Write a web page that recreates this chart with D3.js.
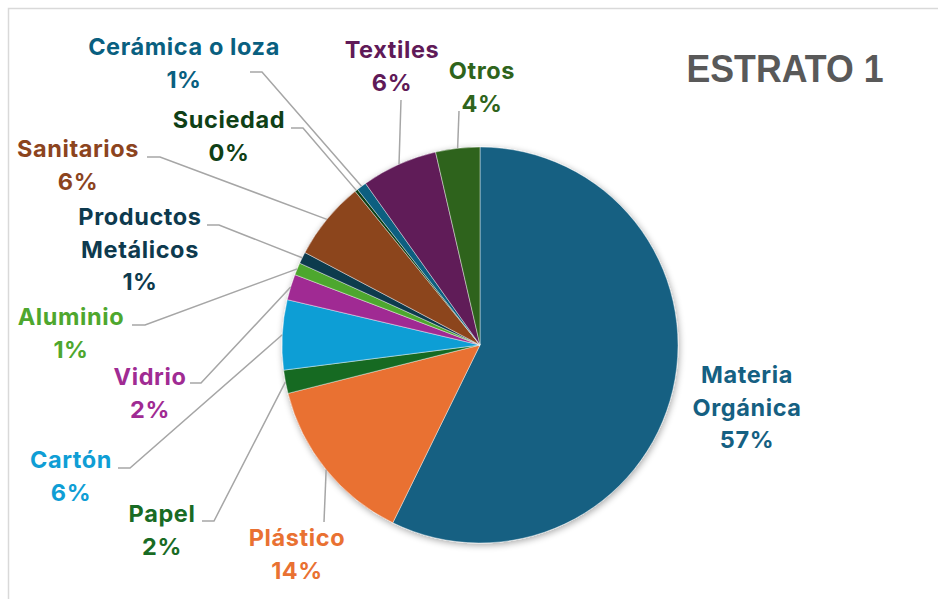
<!DOCTYPE html>
<html>
<head>
<meta charset="utf-8">
<script src="https://cdn.jsdelivr.net/npm/d3@7"></script>
<style>
  html, body { margin: 0; padding: 0; background: #fff; }
  svg { display: block; }
</style>
</head>
<body>
<svg id="chart" width="938" height="599"></svg>
<script>
// ---- Data ----
const categories = ["Materia Orgánica", "Plástico", "Papel", "Cartón", "Vidrio", "Aluminio",
  "Productos Metálicos", "Sanitarios", "Suciedad", "Cerámica o loza", "Textiles", "Otros"];
const values = [57.2, 13.8, 1.9, 5.7, 2.1, 1.0, 0.95, 6.4, 0.25, 0.8, 6.2, 3.6];
const colors = ["#156082", "#E97132", "#196B24", "#0F9ED5", "#A02B93", "#4EA72E",
  "#0D3A4E", "#8C441E", "#0F4016", "#095F80", "#601A58", "#2F641C"];
const labelLines = [["Materia", "Orgánica"], ["Plástico"], ["Papel"], ["Cartón"], ["Vidrio"], ["Aluminio"],
  ["Productos", "Metálicos"], ["Sanitarios"], ["Suciedad"], ["Cerámica o loza"], ["Textiles"], ["Otros"]];
const title = "ESTRATO 1";

// ---- Layout (label anchors and leader-line starts/elbows) ----
const labelPos = [
  {x: 747, y: 383, line: null},
  {x: 297, y: 546, line: [[324, 522], [324, 522]]},
  {x: 162, y: 522, line: [[202, 521], [214, 521]]},
  {x: 71,  y: 468, line: [[118, 468], [130, 468]]},
  {x: 150, y: 385, line: [[190, 383], [201, 383]]},
  {x: 71,  y: 325, line: [[132, 325], [145, 325]]},
  {x: 140, y: 225, line: [[207, 225], [219, 225]]},
  {x: 78,  y: 157, line: [[147, 157], [160, 157]]},
  {x: 229, y: 128, line: [[291, 128], [303, 128]]},
  {x: 184, y: 55,  line: [[250, 72], [262, 72]]},
  {x: 392, y: 58,  line: [[401, 100], [401, 100]]},
  {x: 482, y: 79,  line: [[459, 111], [459, 111]]}
];

const W = 938, H = 599;
const cx = 480, cy = 345, R = 198;
const svg = d3.select("#chart");

// frame
svg.append("rect").attr("x", 8.5).attr("y", 8.5).attr("width", 960).attr("height", 620)
  .attr("fill", "#fff").attr("stroke", "#d9d9d9").attr("stroke-width", 1.5);

// shadow filter
const defs = svg.append("defs");
const f = defs.append("filter").attr("id", "sh").attr("x", "-20%").attr("y", "-20%").attr("width", "140%").attr("height", "140%");
f.append("feGaussianBlur").attr("in", "SourceAlpha").attr("stdDeviation", 3.5).attr("result", "b");
f.append("feOffset").attr("in", "b").attr("dx", 1).attr("dy", 2).attr("result", "o");
f.append("feComponentTransfer").attr("in", "o").attr("result", "o2")
  .append("feFuncA").attr("type", "linear").attr("slope", 0.35);
const m = f.append("feMerge");
m.append("feMergeNode").attr("in", "o2");
m.append("feMergeNode").attr("in", "SourceGraphic");

const data = categories.map((c, i) => ({name: c, value: values[i], i}));
const total = d3.sum(values);
const pie = d3.pie().value(d => d.value).sort(null).startAngle(0).endAngle(2 * Math.PI);
const arcs = pie(data);
const arc = d3.arc().innerRadius(0).outerRadius(R);

const g = svg.append("g").attr("transform", `translate(${cx},${cy})`);
g.append("g").attr("filter", "url(#sh)")
  .selectAll("path").data(arcs).join("path")
  .attr("d", arc)
  .attr("fill", d => colors[d.data.i])
  .attr("stroke", "#ffffff").attr("stroke-width", 0.6).attr("stroke-opacity", 0.7);

// leader lines
arcs.forEach(a => {
  const lp = labelPos[a.data.i];
  if (!lp.line) return;
  const mid = (a.startAngle + a.endAngle) / 2;
  const ex = cx + R * Math.sin(mid), ey = cy - R * Math.cos(mid);
  const pts = [lp.line[0], lp.line[1], [ex, ey]];
  svg.append("path").attr("d", d3.line()(pts))
    .attr("fill", "none").attr("stroke", "#a6a6a6").attr("stroke-width", 1.5);
});

// labels
arcs.forEach(a => {
  const i = a.data.i;
  const lp = labelPos[i];
  const lines = labelLines[i].concat([Math.round(a.data.value / total * 100) + "%"]);
  const t = svg.append("text")
    .attr("x", lp.x).attr("y", lp.y)
    .attr("text-anchor", "middle")
    .attr("font-family", "Inter, 'Open Sans', sans-serif")
    .attr("font-weight", 700).attr("font-size", 23.5)
    .attr("letter-spacing", 0.6)
    .attr("fill", colors[i]);
  lines.forEach((l, k) => {
    t.append("tspan").attr("x", lp.x).attr("dy", k === 0 ? 0 : 32.5).text(l);
  });
});

// title
svg.append("text").attr("x", 785).attr("y", 82).attr("text-anchor", "middle")
  .attr("font-family", "'Liberation Sans', Arial, sans-serif").attr("font-weight", 700)
  .attr("font-size", 38).attr("fill", "#595959")
  .attr("textLength", 197).attr("lengthAdjust", "spacingAndGlyphs")
  .text(title);
</script>
</body>
</html>
